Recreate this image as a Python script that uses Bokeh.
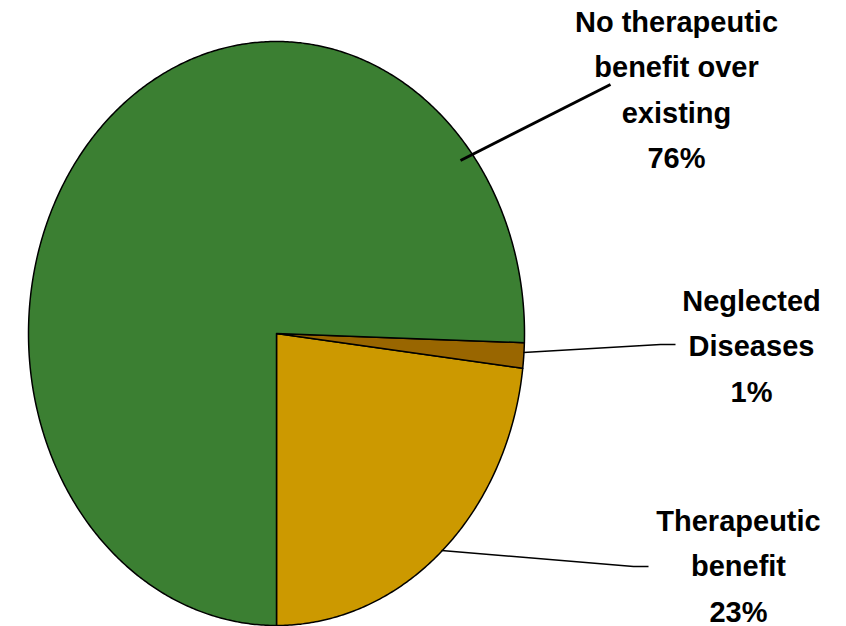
import numpy as np
from bokeh.plotting import figure
from bokeh.models import Range1d, ColumnDataSource
from bokeh.core.properties import value
from bokeh.embed import file_html
from bokeh.resources import INLINE

# ---- data ----
categories = ["Therapeutic benefit", "Neglected Diseases", "No therapeutic benefit over existing"]
shares = [23.1, 1.4, 75.5]
pct_labels = ["23%", "1%", "76%"]
label_lines = [["Therapeutic", "benefit"], ["Neglected", "Diseases"], ["No therapeutic", "benefit over", "existing"]]
colors = ["#CC9900", "#996600", "#3B7F32"]

# ---- layout (reference pixel coordinates, y downward) ----
CX, CY, RX, RY = 276, 333, 248, 292
START_DEG = -90.0
label_pos = [(738, 520), (751, 300), (676, 21)]  # center x, first line anchor
LINE_STEP = 45.5
leaders = [
    ([441, 633, 648], [550, 566, 566], 1.5),
    ([523, 660, 675], [352, 344, 344], 1.5),
    ([460, 610], [160, 84], 3),
]

p = figure(width=846, height=626, output_backend="svg", toolbar_location=None,
           x_range=Range1d(0, 846), y_range=Range1d(626, 0),
           min_border=0, background_fill_color="white", border_fill_color="white")
p.axis.visible = False
p.grid.visible = False
p.outline_line_color = None

total = sum(shares)
xs, ys = [], []
a0 = START_DEG
for s in shares:
    a1 = a0 + 360.0 * s / total
    t = np.radians(np.linspace(a0, a1, max(8, int(abs(a1 - a0) * 2))))
    px = [CX] + list(CX + RX * np.cos(t)) + [CX]
    py = [CY] + list(CY - RY * np.sin(t)) + [CY]
    xs.append(px)
    ys.append(py)
    a0 = a1

p.patches(xs=xs, ys=ys, fill_color=colors, line_color="black", line_width=1.5, line_join="round")

for lx, ly, lw in leaders:
    p.line(lx, ly, line_color="black", line_width=lw)

tx, ty, tt = [], [], []
for (cx, by), lines, pct in zip(label_pos, label_lines, pct_labels):
    for i, ln in enumerate(lines + [pct]):
        tx.append(cx)
        ty.append(by + i * LINE_STEP)
        tt.append(ln)
src = ColumnDataSource(dict(x=tx, y=ty, text=tt))
p.text(x="x", y="y", text="text", source=src, text_font=value("Liberation Sans"),
       text_font_style="bold", text_font_size="29px", text_align="center",
       text_baseline="alphabetic", text_color="black")

open("out.html", "w").write(file_html(p, INLINE))
